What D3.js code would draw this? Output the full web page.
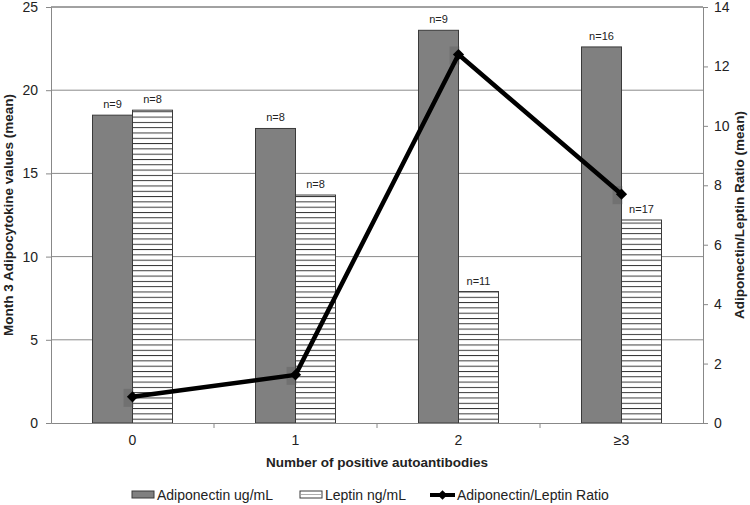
<!DOCTYPE html>
<html>
<head>
<meta charset="utf-8">
<script src="https://cdn.jsdelivr.net/npm/d3@7"></script>
<style>
  body { margin: 0; background: #fff; }
  svg { font-family: "Liberation Sans", Arial, sans-serif; }
</style>
</head>
<body>
<script>
let categories = ["0", "1", "2", "\u22653"];
let adiponectin = [18.5, 17.7, 23.6, 22.6];
let leptin = [18.8, 13.7, 7.9, 12.2];
let ratio = [0.88, 1.62, 12.4, 7.7];
let adipoN = ["n=9", "n=8", "n=9", "n=16"];
let leptinN = ["n=8", "n=8", "n=11", "n=17"];
let leftTicks = [0, 5, 10, 15, 20, 25];
let rightTicks = [0, 2, 4, 6, 8, 10, 12, 14];

let width = 750;
let height = 505;
let plotLeft = 51, plotRight = 703, plotTop = 7, plotBottom = 423;

let svg = d3.select("body")
  .append("svg")
  .attr("width", width)
  .attr("height", height);

let defs = svg.append("defs");
let pat = defs.append("pattern")
  .attr("id", "hlines")
  .attr("patternUnits", "userSpaceOnUse")
  .attr("width", 6)
  .attr("height", 5.3);
pat.append("rect").attr("width", 6).attr("height", 5.3).attr("fill", "#fff");
pat.append("line")
  .attr("x1", 0).attr("x2", 6).attr("y1", 0.5).attr("y2", 0.5)
  .attr("stroke", "#222").attr("stroke-width", 0.9);

let xScale = d3.scaleBand()
  .domain(categories)
  .range([plotLeft, plotRight]);

let yLeft = d3.scaleLinear().domain([0, 25]).range([plotBottom, plotTop]);
let yRight = d3.scaleLinear().domain([0, 14]).range([plotBottom, plotTop]);

// gridlines
svg.append("g")
  .selectAll("line")
  .data(leftTicks.slice(1))
  .join("line")
  .attr("x1", plotLeft).attr("x2", plotRight)
  .attr("y1", d => yLeft(d)).attr("y2", d => yLeft(d))
  .attr("stroke", d => d === 25 ? "#444" : "#8a8a8a")
  .attr("stroke-width", 1);

// left axis
let gyLeft = svg.append("g")
  .attr("transform", "translate(" + plotLeft + ",0)")
  .call(d3.axisLeft(yLeft).tickValues(leftTicks).tickSize(5).tickPadding(8));
gyLeft.select(".domain").attr("stroke", "#888");
gyLeft.selectAll(".tick line").attr("stroke", "#888");
gyLeft.selectAll(".tick text").attr("font-size", 14).attr("fill", "#222")
  .attr("font-family", "Liberation Sans, Arial, sans-serif");

// right axis
let gyRight = svg.append("g")
  .attr("transform", "translate(" + plotRight + ",0)")
  .call(d3.axisRight(yRight).tickValues(rightTicks).tickSize(5).tickPadding(6));
gyRight.select(".domain").attr("stroke", "#888");
gyRight.selectAll(".tick line").attr("stroke", "#888");
gyRight.selectAll(".tick text").attr("font-size", 14).attr("fill", "#222")
  .attr("font-family", "Liberation Sans, Arial, sans-serif");

let barW = 40;
let bw = xScale.bandwidth();

// adiponectin bars
svg.append("g")
  .selectAll("rect")
  .data(adiponectin)
  .join("rect")
  .attr("x", (d, i) => xScale(categories[i]) + bw / 2 - barW)
  .attr("y", d => yLeft(d))
  .attr("width", barW)
  .attr("height", d => yLeft(0) - yLeft(d))
  .attr("fill", "#808080")
  .attr("stroke", "#3a3a3a")
  .attr("stroke-width", 1);

// leptin bars
svg.append("g")
  .selectAll("rect")
  .data(leptin)
  .join("rect")
  .attr("x", (d, i) => xScale(categories[i]) + bw / 2)
  .attr("y", d => yLeft(d))
  .attr("width", barW)
  .attr("height", d => yLeft(0) - yLeft(d))
  .attr("fill", "url(#hlines)")
  .attr("stroke", "#3a3a3a")
  .attr("stroke-width", 1);

// n labels
svg.append("g")
  .selectAll("text")
  .data(adiponectin)
  .join("text")
  .attr("x", (d, i) => xScale(categories[i]) + bw / 2 - barW / 2)
  .attr("y", d => yLeft(d) - 7)
  .attr("text-anchor", "middle")
  .attr("font-size", 11)
  .attr("fill", "#222")
  .text((d, i) => adipoN[i]);

svg.append("g")
  .selectAll("text")
  .data(leptin)
  .join("text")
  .attr("x", (d, i) => xScale(categories[i]) + bw / 2 + barW / 2)
  .attr("y", d => yLeft(d) - 7)
  .attr("text-anchor", "middle")
  .attr("font-size", 11)
  .attr("fill", "#222")
  .text((d, i) => leptinN[i]);

// x axis
let gx = svg.append("g")
  .attr("transform", "translate(0," + plotBottom + ")")
  .call(d3.axisBottom(xScale).tickSize(0).tickPadding(12));
gx.select(".domain").attr("stroke", "#888");
gx.selectAll(".tick text").attr("font-size", 14).attr("fill", "#222")
  .attr("font-family", "Liberation Sans, Arial, sans-serif");
svg.append("g")
  .selectAll("line")
  .data(categories.slice(1))
  .join("line")
  .attr("x1", d => xScale(d)).attr("x2", d => xScale(d))
  .attr("y1", plotBottom).attr("y2", plotBottom + 5)
  .attr("stroke", "#888");

// ratio line
let cx = (d, i) => xScale(categories[i]) + bw / 2;
let line = d3.line()
  .x((d, i) => cx(d, i))
  .y(d => yRight(d));

// marker shadows (excel style)
svg.append("g")
  .selectAll("rect")
  .data(ratio)
  .join("rect")
  .attr("x", (d, i) => cx(d, i) - 9)
  .attr("y", d => yRight(d) - 8)
  .attr("width", 10)
  .attr("height", 18)
  .attr("fill", "#555")
  .attr("opacity", 0.35);

svg.append("path")
  .datum(ratio)
  .attr("d", line)
  .attr("fill", "none")
  .attr("stroke", "#000")
  .attr("stroke-width", 4.5)
  .attr("stroke-linejoin", "round");

svg.append("g")
  .selectAll("path")
  .data(ratio)
  .join("path")
  .attr("d", d3.symbol().type(d3.symbolDiamond2).size(80))
  .attr("transform", (d, i) => "translate(" + cx(d, i) + "," + yRight(d) + ")")
  .attr("fill", "#000");

// axis titles
svg.append("text")
  .attr("transform", "translate(13," + ((plotTop + plotBottom) / 2) + ") rotate(-90)")
  .attr("text-anchor", "middle")
  .attr("font-size", 13.5)
  .attr("font-weight", "bold")
  .attr("fill", "#222")
  .text("Month 3 Adipocytokine values (mean)");

svg.append("text")
  .attr("transform", "translate(744," + ((plotTop + plotBottom) / 2) + ") rotate(-90)")
  .attr("text-anchor", "middle")
  .attr("font-size", 13.5)
  .attr("font-weight", "bold")
  .attr("fill", "#222")
  .text("Adiponectin/Leptin Ratio (mean)");

svg.append("text")
  .attr("x", (plotLeft + plotRight) / 2)
  .attr("y", 467)
  .attr("text-anchor", "middle")
  .attr("font-size", 13.5)
  .attr("font-weight", "bold")
  .attr("fill", "#222")
  .text("Number of positive autoantibodies");

// legend
let legend = svg.append("g").attr("transform", "translate(0,495)");
legend.append("rect")
  .attr("x", 132).attr("y", -4).attr("width", 22).attr("height", 7)
  .attr("fill", "#808080").attr("stroke", "#3a3a3a");
legend.append("text")
  .attr("x", 157).attr("y", 5).attr("font-size", 14).attr("fill", "#222")
  .text("Adiponectin ug/mL");
legend.append("rect")
  .attr("x", 300).attr("y", -4).attr("width", 22).attr("height", 7)
  .attr("fill", "#fff").attr("stroke", "#3a3a3a");
legend.append("line")
  .attr("x1", 301).attr("x2", 321).attr("y1", -0.5).attr("y2", -0.5)
  .attr("stroke", "#999").attr("stroke-width", 0.8);
legend.append("text")
  .attr("x", 325).attr("y", 5).attr("font-size", 14).attr("fill", "#222")
  .text("Leptin ng/mL");
legend.append("line")
  .attr("x1", 430).attr("x2", 455).attr("y1", 0).attr("y2", 0)
  .attr("stroke", "#000").attr("stroke-width", 4);
legend.append("path")
  .attr("d", d3.symbol().type(d3.symbolDiamond2).size(60))
  .attr("transform", "translate(442.5,0)")
  .attr("fill", "#000");
legend.append("text")
  .attr("x", 457).attr("y", 5).attr("font-size", 14).attr("fill", "#222")
  .text("Adiponectin/Leptin Ratio");
</script>
</body>
</html>
